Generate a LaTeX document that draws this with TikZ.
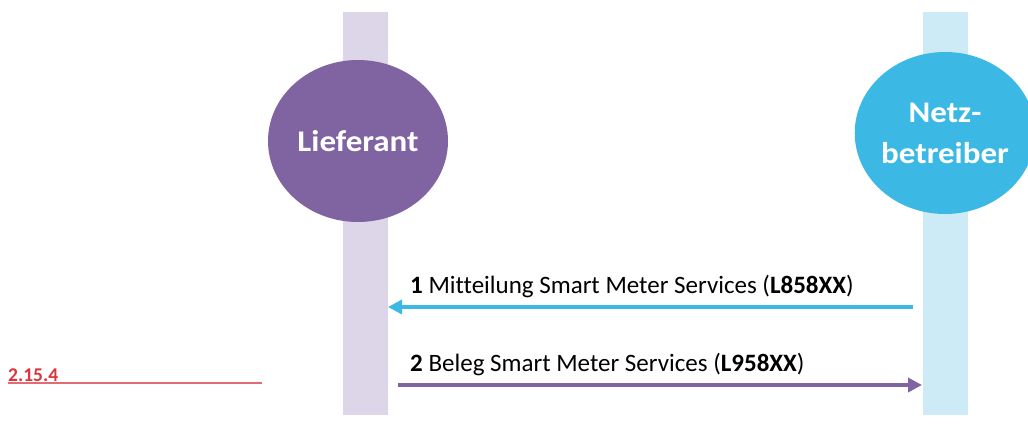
\documentclass[tikz,border=0pt]{standalone}
\usepackage{fontspec}
\setmainfont{Carlito}[Ligatures=NoCommon]
\usetikzlibrary{arrows.meta,shapes.geometric}
\definecolor{lpurple}{HTML}{DCD6E8}
\definecolor{dpurple}{HTML}{8064A2}
\definecolor{lblue}{HTML}{CDEBF6}
\definecolor{dblue}{HTML}{3CB8E4}
\definecolor{redtxt}{HTML}{D9363E}
\definecolor{redline}{HTML}{E36C74}
\begin{document}
\begin{tikzpicture}[x=1pt,y=-1pt,
  lifebar/.style={minimum width=45pt,minimum height=403pt,inner sep=0pt,draw=none},
  actor/.style={ellipse,minimum width=180pt,minimum height=162pt,inner sep=0pt,text=white,font=\fontsize{30}{41}\selectfont\bfseries,align=center},
  msg/.style={line width=4pt,-{Triangle[length=14pt,width=14pt]}},
  lbl/.style={font=\fontsize{25}{30}\selectfont,anchor=base west,inner sep=0pt}]
\useasboundingbox (0,0) rectangle (1028,426);
\node[lifebar,fill=lpurple] (barL) at (365.5,213.5) {};
\node[lifebar,fill=lblue] (barR) at (945.5,213.5) {};
\begin{scope}
\clip (0,0) rectangle (1028,426);
\node[actor,fill=dpurple] (lief) at (358,141) {\scalebox{1.1}[1]{Lieferant}};
\node[actor,fill=dblue] (netz) at (945,133) {\scalebox{1.1}[1]{Netz-}\\\scalebox{1.1}[1]{betreiber}};
\end{scope}
\coordinate (a1s) at (913,307);
\coordinate (a1e) at (388,307);
\coordinate (a2s) at (398,385);
\coordinate (a2e) at (922,385);
\draw[msg,draw=dblue,color=dblue] (a1s) -- (a1e);
\draw[msg,draw=dpurple,color=dpurple] (a2s) -- (a2e);
\node[lbl] (l1) at (410,293) {\textbf{1} Mitteilung Smart Meter Services (\textbf{L858XX})};
\node[lbl] (l2) at (410,371) {\textbf{2} Beleg Smart Meter Services (\textbf{L958XX})};
\node[font=\fontsize{19.5}{22}\selectfont\bfseries,text=redtxt,anchor=base west,inner sep=0pt] (sec) at (8,381) {2.15.4};
\coordinate (u1) at (8,383);
\coordinate (u2) at (262,383);
\draw[redline,line width=2pt] (u1) -- (u2);
\end{tikzpicture}
\end{document}
